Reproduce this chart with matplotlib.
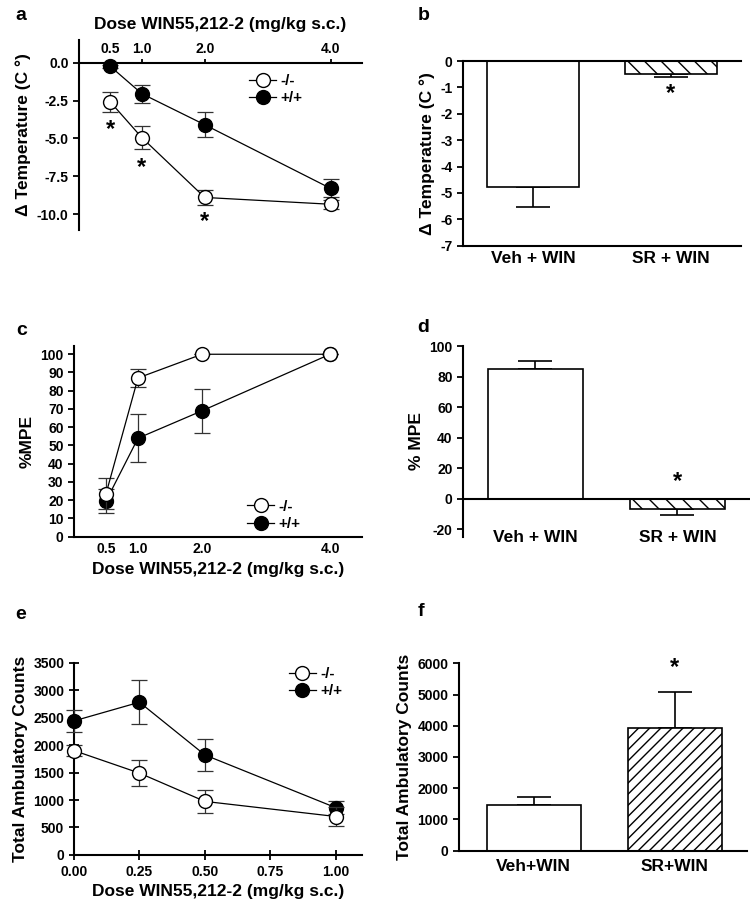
import matplotlib
matplotlib.use("Agg")
import matplotlib.pyplot as plt
from matplotlib.lines import Line2D
import numpy as np

plt.rcParams['font.family'] = ['Liberation Sans', 'DejaVu Sans']
plt.rcParams['font.weight'] = 'bold'
plt.rcParams['axes.labelweight'] = 'bold'
plt.rcParams['axes.unicode_minus'] = False
plt.rcParams['hatch.linewidth'] = 1.0

# ---- data ----
dose_ac = [0.5, 1.0, 2.0, 4.0]
dose_e = [0.0, 0.25, 0.5, 1.0]
bar_labels_bd = ['Veh + WIN', 'SR + WIN']
bar_labels_f = ['Veh+WIN', 'SR+WIN']

# a: temperature change
temp_ko = [-2.6, -4.95, -8.9, -9.35]
temp_ko_err = [0.64, 0.77, 0.48, 0.3]
temp_wt = [-0.25, -2.05, -4.1, -8.3]
temp_wt_err = [0.1, 0.6, 0.82, 0.6]
temp_stars_x = [0.5, 1.0, 2.0]
temp_stars_y = [-4.4, -6.9, -10.5]

# b
temp_bar = [-4.76, -0.5]
temp_bar_err = [0.78, 0.12]

# c: %MPE
mpe_ko = [23.5, 87, 100, 100]
mpe_ko_err = [8.5, 5, 0, 0]
mpe_wt = [19.5, 54, 69, 100]
mpe_wt_err = [6.5, 13.3, 12, 0]

# d
mpe_bar = [84.8, -7.0]
mpe_bar_err = [5.5, 3.8]

# e: ambulatory counts
amb_ko = [1900, 1490, 975, 700]
amb_ko_err = [100, 230, 210, 180]
amb_wt = [2440, 2780, 1820, 860]
amb_wt_err = [195, 400, 290, 120]

# f
amb_bar = [1465, 3940]
amb_bar_err = [266, 1134]

TICK = 10
LAB = 12.5
LEG = 11

fig = plt.figure(figsize=(7.55, 9.08), dpi=100)


def style(ax):
    for s in ax.spines.values():
        s.set_linewidth(1.5)
    ax.tick_params(labelsize=TICK, width=1.3, length=4, direction='out')


def dose_lines(ax, x, ko, koe, wt, wte):
    ax.errorbar(x, wt, yerr=wte, fmt='o-', color='black', ecolor='#333333',
                mfc='black', mec='black', ms=10, lw=0.9, elinewidth=0.9,
                capsize=6, capthick=0.9, zorder=3, clip_on=False)
    ax.errorbar(x, ko, yerr=koe, fmt='o-', color='black', ecolor='#333333',
                mfc='white', mec='black', ms=10, lw=0.9, elinewidth=0.9,
                capsize=6, capthick=0.9, zorder=4, clip_on=False)


def dose_legend(ax, anchor):
    h = [Line2D([], [], color='black', lw=0.9, marker='o', ms=10, mfc='white', mec='black'),
         Line2D([], [], color='black', lw=0.9, marker='o', ms=10, mfc='black', mec='black')]
    ax.legend(h, ['-/-', '+/+'], loc='center left', bbox_to_anchor=anchor, frameon=False,
              fontsize=LEG, handlelength=1.8, handletextpad=0.25, labelspacing=0.2,
              borderpad=0, borderaxespad=0)


def bars(ax, vals, errs, labels, hatch):
    x = np.arange(len(vals))
    b = ax.bar(x, vals, width=0.667, color='white', edgecolor='black', lw=1.2, zorder=2)
    b[1].set_hatch(hatch)
    for xi, v, e in zip(x, vals, errs):
        ax.errorbar(xi, v, yerr=[[e if v < 0 else 0], [e if v >= 0 else 0]],
                    fmt='none', ecolor='black', elinewidth=1.2, capsize=12,
                    capthick=1.2, zorder=1)
    ax.set_xticks(x)
    ax.set_xticklabels(labels, fontsize=LAB, fontweight='bold')
    ax.tick_params(axis='x', length=0)
    ax.set_xlim(-0.51, 1.51)


# ---- panel a ----
ax = fig.add_axes([0.1046, 0.7467, 0.3748, 0.2093])
style(ax)
dose_lines(ax, dose_ac, temp_ko, temp_ko_err, temp_wt, temp_wt_err)
ax.set_xlim(0, 4.5)
ax.set_ylim(-11.05, 1.5)
ax.spines['right'].set_visible(False)
ax.spines['bottom'].set_visible(False)
ax.spines['top'].set_position(('data', 0))
ax.xaxis.set_ticks_position('top')
ax.xaxis.set_label_position('top')
ax.set_xticks(dose_ac)
ax.set_xticklabels(['0.5', '1.0', '2.0', '4.0'])
ax.tick_params(axis='x', length=3, pad=2)
ax.set_yticks([0, -2.5, -5, -7.5, -10])
ax.set_yticklabels(['0.0', '-2.5', '-5.0', '-7.5', '-10.0'])
ax.set_xlabel('Dose WIN55,212-2 (mg/kg s.c.)', fontsize=LAB, labelpad=9)
ax.set_ylabel('\u0394 Temperature (C \u00b0)', fontsize=LAB)
for sx, sy in zip(temp_stars_x, temp_stars_y):
    ax.text(sx, sy, '*', fontsize=17, ha='center', va='center')
dose_legend(ax, (0.6, 0.737))
fig.text(0.02, 0.983, 'a', fontsize=14, fontweight='bold', va='center')

# ---- panel b ----
ax = fig.add_axes([0.6132, 0.7294, 0.3682, 0.2034])
style(ax)
bars(ax, temp_bar, temp_bar_err, bar_labels_bd, '\\\\')
ax.set_ylim(-7, 0)
ax.set_yticks(range(0, -8, -1))
ax.spines['right'].set_visible(False)
ax.set_ylabel('\u0394 Temperature (C \u00b0)', fontsize=LAB)
ax.text(1.0, -1.25, '*', fontsize=17, ha='center', va='center')
fig.text(0.553, 0.983, 'b', fontsize=14, fontweight='bold', va='center')

# ---- panel c ----
ax = fig.add_axes([0.098, 0.4089, 0.3815, 0.21])
style(ax)
dose_lines(ax, dose_ac, mpe_ko, mpe_ko_err, mpe_wt, mpe_wt_err)
ax.set_xlim(0, 4.5)
ax.set_ylim(0, 104.5)
ax.spines['right'].set_visible(False)
ax.spines['top'].set_visible(False)
ax.set_xticks(dose_ac)
ax.set_xticklabels(['0.5', '1.0', '2.0', '4.0'])
ax.set_yticks(range(0, 101, 10))
ax.tick_params(axis='x', length=0, pad=4)
ax.set_xlabel('Dose WIN55,212-2 (mg/kg s.c.)', fontsize=LAB, labelpad=4)
ax.set_ylabel('%MPE', fontsize=LAB)
dose_legend(ax, (0.6, 0.112))
fig.text(0.022, 0.636, 'c', fontsize=14, fontweight='bold', va='center')

# ---- panel d ----
ax = fig.add_axes([0.6132, 0.4089, 0.3801, 0.21])
style(ax)
bars(ax, mpe_bar, mpe_bar_err, bar_labels_bd, '\\\\')
ax.set_ylim(-25, 100)
ax.set_yticks(range(-20, 101, 20))
ax.axhline(0, color='black', lw=1.5, zorder=3)
for s in ['right', 'top', 'bottom']:
    ax.spines[s].set_visible(False)
ax.tick_params(axis='x', pad=-5)
ax.set_ylabel('% MPE', fontsize=LAB)
ax.text(1.0, 11.5, '*', fontsize=17, ha='center', va='center')
fig.text(0.553, 0.639, 'd', fontsize=14, fontweight='bold', va='center')

# ---- panel e ----
ax = fig.add_axes([0.098, 0.0584, 0.3815, 0.2118])
style(ax)
dose_lines(ax, dose_e, amb_ko, amb_ko_err, amb_wt, amb_wt_err)
ax.set_xlim(0, 1.1)
ax.set_ylim(0, 3500)
ax.spines['right'].set_visible(False)
ax.spines['top'].set_visible(False)
ax.tick_params(axis='both', direction='inout', length=7)
ax.set_xticks([0, 0.25, 0.5, 0.75, 1.0])
ax.set_xticklabels(['0.00', '0.25', '0.50', '0.75', '1.00'])
ax.set_yticks(range(0, 3501, 500))
ax.set_xlabel('Dose WIN55,212-2 (mg/kg s.c.)', fontsize=LAB, labelpad=4)
ax.set_ylabel('Total Ambulatory Counts', fontsize=LAB)
dose_legend(ax, (0.745, 0.895))
fig.text(0.02, 0.323, 'e', fontsize=14, fontweight='bold', va='center')

# ---- panel f ----
ax = fig.add_axes([0.608, 0.0631, 0.381, 0.2064])
style(ax)
bars(ax, amb_bar, amb_bar_err, bar_labels_f, '///')
ax.set_xlim(-0.53, 1.51)
ax.set_ylim(0, 6000)
ax.set_yticks(range(0, 6001, 1000))
ax.spines['right'].set_visible(False)
ax.spines['top'].set_visible(False)
ax.tick_params(axis='x', pad=6)
ax.set_ylabel('Total Ambulatory Counts', fontsize=LAB)
ax.text(1.0, 5850, '*', fontsize=17, ha='center', va='center')
fig.text(0.553, 0.327, 'f', fontsize=14, fontweight='bold', va='center')

fig.savefig('out.png', dpi=100)
